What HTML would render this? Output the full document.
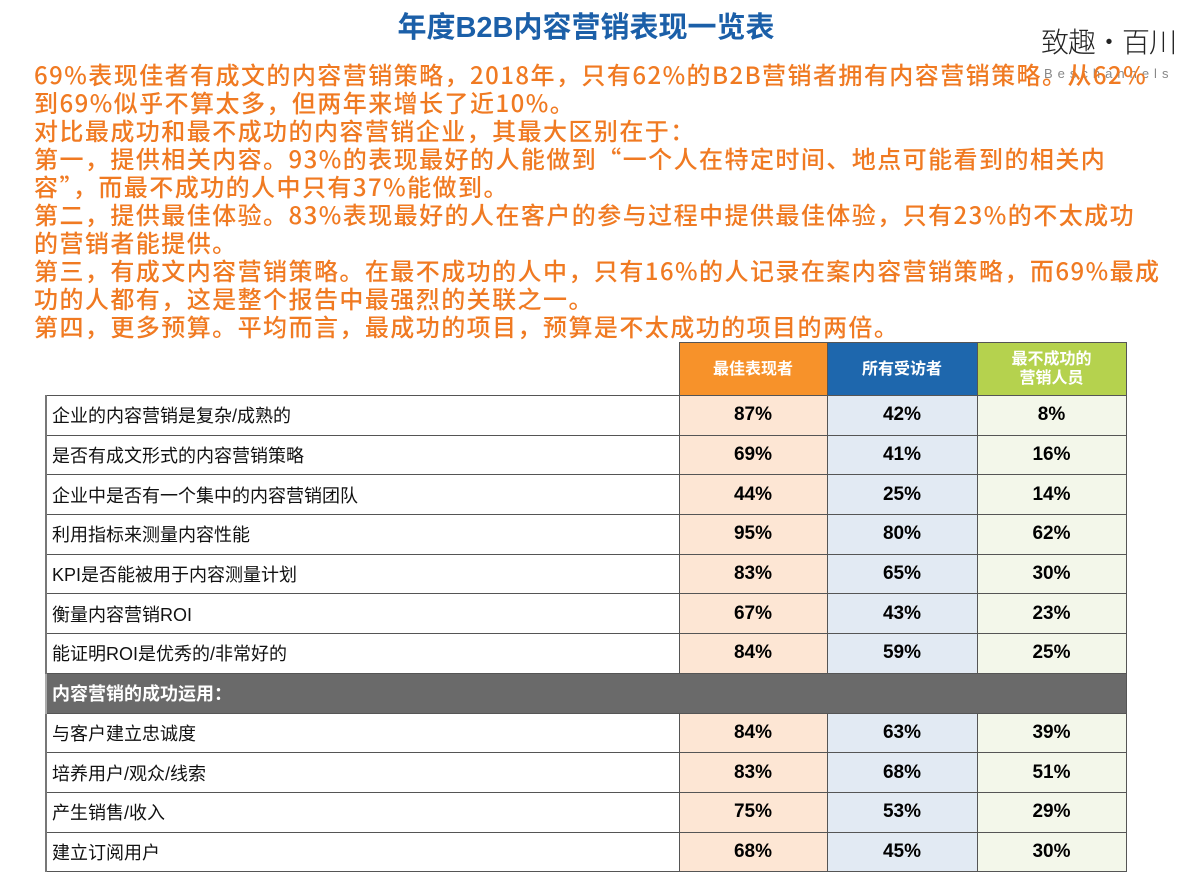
<!DOCTYPE html>
<html><head><meta charset="utf-8"><style>
body{margin:0;width:1190px;height:893px;background:#fff;position:relative;overflow:hidden;font-family:"Liberation Sans","Noto Sans CJK SC",sans-serif}
#title{position:absolute;left:0;width:1172px;top:4px;text-align:center;color:#1b5fa8;font-size:29px;font-weight:bold}
.logo{position:absolute;left:1041px;top:21px;font-size:28px;color:#222;white-space:nowrap;font-family:"Noto Sans CJK SC",sans-serif;font-weight:300;letter-spacing:-1px}
.logo2{position:absolute;left:1044px;top:66px;font-size:13px;color:#888;letter-spacing:5px;white-space:nowrap}
.p{position:absolute;left:34px;color:#f07a22;font-size:24px;white-space:nowrap;line-height:28px;letter-spacing:1.45px;font-family:"Noto Sans CJK SC",sans-serif;font-weight:500}
table{position:absolute;left:45px;top:342px;border-collapse:collapse;table-layout:fixed;font-family:"Liberation Sans","Noto Sans CJK SC",sans-serif}
td{border:1.5px solid #555;height:38.7px;padding:0;font-size:18px}
td.l{padding-left:5px;color:#111;border-left:2px solid #777}
td.v{text-align:center;font-weight:bold;font-size:19px;color:#000}
.a{background:#fde6d4}.b{background:#e2eaf3}.c{background:#f3f7ea}
th{color:#fff;font-size:16px;font-weight:bold;border:1.5px solid #555;height:50px;line-height:19px}
tr.sec td{background:#6a6a6a;color:#fff;font-weight:bold;border-left:2px solid #aaa}
</style></head><body>
<div id="title">年度B2B内容营销表现一览表</div>
<div class="logo">致趣·百川</div>
<div class="logo2">Beschannels</div>
<div>
<div class="p" style="top:60px">69%表现佳者有成文的内容营销策略，2018年，只有62%的B2B营销者拥有内容营销策略。从62%</div>
<div class="p" style="top:88px">到69%似乎不算太多，但两年来增长了近10%。</div>
<div class="p" style="top:116px">对比最成功和最不成功的内容营销企业，其最大区别在于：</div>
<div class="p" style="top:144px">第一，提供相关内容。93%的表现最好的人能做到“一个人在特定时间、地点可能看到的相关内</div>
<div class="p" style="top:172px">容”，而最不成功的人中只有37%能做到。</div>
<div class="p" style="top:200px">第二，提供最佳体验。83%表现最好的人在客户的参与过程中提供最佳体验，只有23%的不太成功</div>
<div class="p" style="top:228px">的营销者能提供。</div>
<div class="p" style="top:256px">第三，有成文内容营销策略。在最不成功的人中，只有16%的人记录在案内容营销策略，而69%最成</div>
<div class="p" style="top:284px">功的人都有，这是整个报告中最强烈的关联之一。</div>
<div class="p" style="top:312px">第四，更多预算。平均而言，最成功的项目，预算是不太成功的项目的两倍。</div>
</div>
<table>
<colgroup><col style="width:633px"><col style="width:148px"><col style="width:150px"><col style="width:149px"></colgroup>
<tr><td style="border:none;border-bottom:1.5px solid #555"></td>
<th style="background:#f7922a">最佳表现者</th>
<th style="background:#1e67ad">所有受访者</th>
<th style="background:#b5d24e">最不成功的<br>营销人员</th></tr>
<tbody id="tb"></tbody>
</table>
<script>
const labels=["企业的内容营销是复杂/成熟的","是否有成文形式的内容营销策略","企业中是否有一个集中的内容营销团队","利用指标来测量内容性能","KPI是否能被用于内容测量计划","衡量内容营销ROI","能证明ROI是优秀的/非常好的",null,"与客户建立忠诚度","培养用户/观众/线索","产生销售/收入","建立订阅用户"];
const best=[87,69,44,95,83,67,84,null,84,83,75,68];
const all=[42,41,25,80,65,43,59,null,63,68,53,45];
const least=[8,16,14,62,30,23,25,null,39,51,29,30];
const tb=document.getElementById('tb');
labels.forEach((l,i)=>{
 const tr=document.createElement('tr');
 
 
 if(l===null){
  tr.className='sec';
  tr.innerHTML='<td class="l" colspan="4">内容营销的成功运用：</td>';
 } else {
  tr.innerHTML='<td class="l">'+l+'</td><td class="v a">'+best[i]+'%</td><td class="v b">'+all[i]+'%</td><td class="v c">'+least[i]+'%</td>';
 }
 tb.appendChild(tr);
});
</script>
</body></html>
